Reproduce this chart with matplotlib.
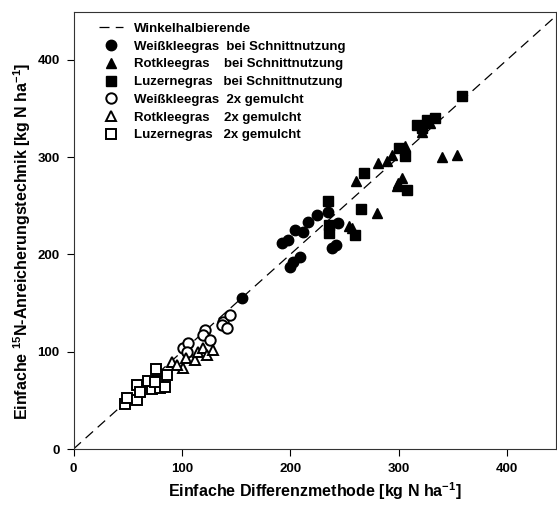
import matplotlib
matplotlib.use("Agg")
import matplotlib.pyplot as plt
import numpy as np

plt.rcParams['font.family'] = ['Liberation Sans', 'DejaVu Sans']
plt.rcParams['font.weight'] = 'bold'
plt.rcParams['mathtext.fontset'] = 'custom'
plt.rcParams['mathtext.rm'] = 'Liberation Sans:bold'
plt.rcParams['mathtext.bf'] = 'Liberation Sans:bold'
plt.rcParams['mathtext.default'] = 'bf'

# Weißkleegras bei Schnittnutzung
wk_s_x = [155.5, 192.5, 198, 204.5, 212, 216.5, 224.8, 235, 244, 238.6, 242, 209, 202.6, 200]
wk_s_y = [155.3, 211.8, 215, 225, 223, 233, 240.6, 243.7, 232.4, 206.7, 210, 197.4, 192.3, 187]
# Rotkleegras bei Schnittnutzung
rk_s_x = [261, 280, 281, 289, 294, 306, 303, 298, 299.5, 321.4, 329, 340, 353.7, 256.8, 254]
rk_s_y = [275, 242, 294, 295.5, 302, 311, 278, 270, 273.5, 326, 335, 300.5, 302, 227, 229]
# Luzernegras bei Schnittnutzung
lz_s_x = [358.4, 333.7, 326, 316.8, 321.4, 299.8, 306, 267.5, 307.6, 234.3, 265.4, 235.2, 235.2, 260]
lz_s_y = [362.3, 340, 338.3, 333, 329.8, 309, 300.6, 283.5, 266.3, 255, 246.8, 230.3, 221.8, 220]
# Weißkleegras 2x gemulcht
wk_m_x = [101.3, 106, 104.5, 121.4, 119.8, 126, 138.3, 136.8, 141.4, 144.5]
wk_m_y = [103.5, 108.7, 100, 122.4, 117.2, 112, 130.9, 127.5, 124, 137.8]
# Rotkleegras 2x gemulcht
rk_m_x = [90.6, 101.3, 95, 103.6, 112, 115.2, 119.8, 122.9, 129]
rk_m_y = [89.8, 83, 86.4, 93.3, 91.5, 100, 103.5, 96.6, 101.8]
# Luzernegras 2x gemulcht
lz_m_x = [47.5, 49, 58.3, 59, 61.4, 72, 69, 76, 78.3, 79.8, 84.5, 86.6, 75]
lz_m_y = [46.3, 52, 50.4, 65.8, 59, 61.4, 70.2, 82, 70.2, 62.4, 64, 76, 69]

ticks = [0, 100, 200, 300, 400]

fig = plt.figure(figsize=(5.57, 5.08), dpi=100)
ax = fig.add_axes([73.5/557, 59/508, (556-73.5)/557, (449-12)/508])

ax.plot([0, 450], [0, 450], color='black', linestyle=(0, (8, 5)), linewidth=0.9,
        label='Winkelhalbierende', zorder=1)
ms = 7.5
ax.plot(wk_s_x, wk_s_y, 'o', color='black', markersize=ms, linestyle='none',
        label='Weißkleegras  bei Schnittnutzung', zorder=3)
ax.plot(rk_s_x, rk_s_y, '^', color='black', markersize=ms, linestyle='none',
        label='Rotkleegras    bei Schnittnutzung', zorder=3)
ax.plot(lz_s_x, lz_s_y, 's', color='black', markersize=ms*0.95, linestyle='none',
        label='Luzernegras   bei Schnittnutzung', zorder=3)
ax.plot(wk_m_x, wk_m_y, 'o', markerfacecolor='white', markeredgecolor='black',
        markeredgewidth=1.4, markersize=ms, linestyle='none',
        label='Weißkleegras  2x gemulcht', zorder=3)
ax.plot(rk_m_x, rk_m_y, '^', markerfacecolor='white', markeredgecolor='black',
        markeredgewidth=1.4, markersize=ms, linestyle='none',
        label='Rotkleegras    2x gemulcht', zorder=3)
ax.plot(lz_m_x, lz_m_y, 's', markerfacecolor='white', markeredgecolor='black',
        markeredgewidth=1.4, markersize=ms*0.95, linestyle='none',
        label='Luzernegras   2x gemulcht', zorder=3)

ax.set_xlim(0, 445)
ax.set_ylim(0, 449)
ax.set_xticks(ticks)
ax.set_yticks(ticks)
ax.tick_params(direction='out', length=5, width=0.8, labelsize=9.5, pad=5)
for lab in ax.get_xticklabels() + ax.get_yticklabels():
    lab.set_fontweight('bold')
for sp in ax.spines.values():
    sp.set_linewidth(0.8)
    sp.set_color('#333333')

ax.set_xlabel('Einfache Differenzmethode [kg N ha$^{-1}$]', fontsize=11.5,
              fontweight='bold', labelpad=4)
ax.set_ylabel('Einfache $^{15}$N-Anreicherungstechnik [kg N ha$^{-1}$]', fontsize=11.5,
              fontweight='bold', labelpad=3)
ax.yaxis.set_label_coords(-0.084, 0.475)

leg = ax.legend(loc='upper left', bbox_to_anchor=(0.029, 1.003), frameon=False,
                prop={'weight': 'bold', 'size': 9.5}, handlelength=1.8,
                handletextpad=0.85, labelspacing=0.42, borderpad=0.4)

fig.savefig('out.png', dpi=100)
